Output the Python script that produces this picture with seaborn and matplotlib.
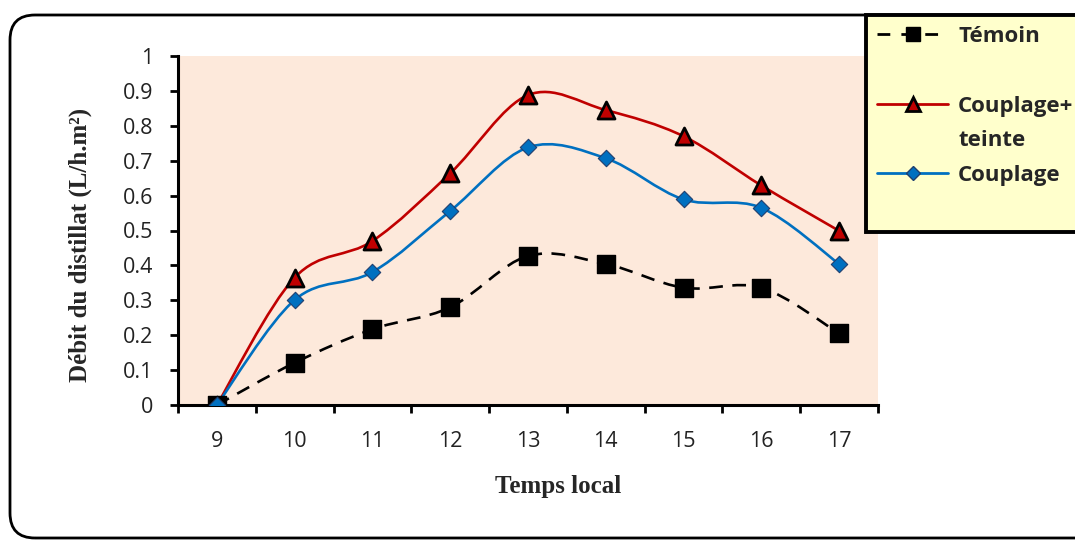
import numpy as np
import pandas as pd
import matplotlib
matplotlib.use("Agg")
import matplotlib.pyplot as plt
import seaborn as sns
from matplotlib.path import Path
from matplotlib.patches import PathPatch, FancyBboxPatch
from matplotlib.lines import Line2D

# ---- data ----
hours = [9, 10, 11, 12, 13, 14, 15, 16, 17]
temoin = [0.0, 0.121, 0.217, 0.280, 0.427, 0.404, 0.336, 0.336, 0.205]
couplage_teinte = [0.0, 0.365, 0.470, 0.664, 0.888, 0.845, 0.770, 0.629, 0.499]
couplage = [0.0, 0.301, 0.381, 0.556, 0.738, 0.707, 0.589, 0.565, 0.404]
y_ticks = [0, 0.1, 0.2, 0.3, 0.4, 0.5, 0.6, 0.7, 0.8, 0.9, 1]
y_tick_labels = ["0", "0.1", "0.2", "0.3", "0.4", "0.5", "0.6", "0.7", "0.8", "0.9", "1"]
legend_labels = ["Témoin", " ", "Couplage+", "teinte", "Couplage", " "]

df = pd.DataFrame({"Temps": hours, "Témoin": temoin,
                   "Couplage+teinte": couplage_teinte, "Couplage": couplage})

sns.set_theme(style="white")
plt.rcParams["font.family"] = ["Open Sans", "DejaVu Sans"]

W, H = 1075, 540
fig = plt.figure(figsize=(W / 100, H / 100), dpi=100)
fig.patch.set_facecolor("white")
ax = fig.add_axes([178 / W, 1 - 405 / H, 700 / W, 349 / H])
ax.set_facecolor("#FDE9DB")


def smooth_path(x, y):
    pts = np.column_stack([x, y]).astype(float)
    n = len(pts)
    verts = [pts[0]]
    codes = [Path.MOVETO]
    for i in range(n - 1):
        p0 = pts[i - 1] if i > 0 else pts[i]
        p1, p2 = pts[i], pts[i + 1]
        p3 = pts[i + 2] if i + 2 < n else pts[i + 1]
        c1 = p1 + (p2 - p0) / 6.0
        c2 = p2 - (p3 - p1) / 6.0
        verts += [c1, c2, p2]
        codes += [Path.CURVE4] * 3
    return Path(verts, codes)


RED = "#C00000"
BLUE = "#0070C0"

# curves
ax.add_patch(PathPatch(smooth_path(df["Temps"], df["Témoin"]), fill=False,
                       edgecolor="black", lw=1.9, linestyle=(0, (5.2, 3.6)), zorder=2))
ax.add_patch(PathPatch(smooth_path(df["Temps"], df["Couplage+teinte"]), fill=False,
                       edgecolor=RED, lw=1.9, zorder=3))
ax.add_patch(PathPatch(smooth_path(df["Temps"], df["Couplage"]), fill=False,
                       edgecolor=BLUE, lw=1.9, zorder=4))

# markers
sns.scatterplot(data=df, x="Temps", y="Témoin", marker="s", s=150, color="black",
                edgecolor="black", linewidth=1, ax=ax, zorder=5, legend=False)
sns.scatterplot(data=df, x="Temps", y="Couplage+teinte", marker="^", s=150, color=RED,
                edgecolor="black", linewidth=2, ax=ax, zorder=6, legend=False)
sns.scatterplot(data=df, x="Temps", y="Couplage", marker="D", s=70, color=BLUE,
                edgecolor="#1F3F6F", linewidth=0.8, ax=ax, zorder=7, legend=False)

# axes
ax.set_xlim(8.5, 17.5)
ax.set_ylim(0, 1)
ax.set_xticks(np.arange(8.5, 18.0, 1.0))
ax.set_xticklabels([])
ax.set_xticks(hours, minor=True)
ax.set_xticklabels([str(h) for h in hours], minor=True)
ax.set_yticks(y_ticks)
ax.set_yticklabels(y_tick_labels)
ax.tick_params(axis="x", which="major", direction="out", length=6, width=2, color="black", bottom=True)
ax.tick_params(axis="x", which="minor", length=0, pad=19, labelsize=15.5, labelcolor="#222222", bottom=True)
ax.tick_params(axis="y", which="major", direction="out", length=6, width=2, color="black",
               pad=12, labelsize=15.5, labelcolor="#222222", left=True)
for side in ["top", "right"]:
    ax.spines[side].set_visible(False)
for side in ["left", "bottom"]:
    ax.spines[side].set_linewidth(2.2)
    ax.spines[side].set_color("black")
ax.set_xlabel("")
ax.set_ylabel("")

fig.text(558 / W, 1 - 487 / H, "Temps local", ha="center", va="center",
         family="Liberation Serif", fontweight="bold", fontsize=18)
fig.text(80 / W, 1 - 245 / H, "Débit du distillat (L/h.m²)", ha="center", va="center",
         rotation=90, family="Liberation Serif", fontweight="bold", fontsize=18)

# outer rounded frame (pixel coordinates)
frame = FancyBboxPatch((10, 2), 1090, 523, boxstyle="round,pad=0,rounding_size=25",
                       transform=None, fill=False, edgecolor="black", lw=2, zorder=0)
fig.patches.append(frame)

# legend
blank = Line2D([], [], linestyle="none")
handles = [
    Line2D([], [], color="black", lw=2, linestyle=(0, (4.6, 4.0)), marker="s",
           markersize=10, markerfacecolor="black", markeredgecolor="black"),
    blank,
    Line2D([], [], color=RED, lw=2, marker="^", markersize=10,
           markerfacecolor=RED, markeredgecolor="black", markeredgewidth=2),
    blank,
    Line2D([], [], color=BLUE, lw=2, marker="D", markersize=7,
           markerfacecolor=BLUE, markeredgecolor="#1F3F6F"),
    blank,
]
leg = fig.legend(handles, legend_labels, loc="upper left",
                 bbox_to_anchor=(866 / W, 1 - 15 / H), bbox_transform=fig.transFigure,
                 frameon=True, fancybox=False, facecolor="#FFFFCC", edgecolor="black",
                 framealpha=1, borderpad=0.5, labelspacing=0.62, handlelength=3.2,
                 handletextpad=0.45, borderaxespad=0,
                 prop={"family": ["Open Sans", "DejaVu Sans"], "weight": "bold", "size": 16})
leg.get_frame().set_linewidth(2.8)

fig.savefig("out.png", dpi=100)
